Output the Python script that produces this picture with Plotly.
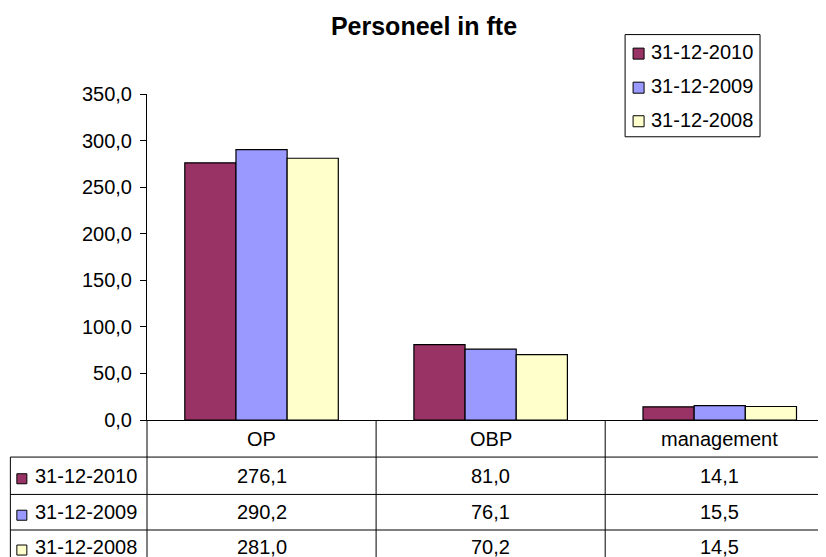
import plotly.graph_objects as go

categories = ["OP", "OBP", "management"]
series_names = ["31-12-2010", "31-12-2009", "31-12-2008"]
values_2010 = [276.1, 81.0, 14.1]
values_2009 = [290.2, 76.1, 15.5]
values_2008 = [281.0, 70.2, 14.5]
series_values = [values_2010, values_2009, values_2008]
colors = ["#993366", "#9999FF", "#FFFFCC"]
y_ticks = [0, 50, 100, 150, 200, 250, 300, 350]

# the page body adds an 8px offset; work in screen pixels and convert
OFF = 8
SW, SH = 826, 557
W, H = SW - OFF, SH - OFF
S_LEFT, S_TOP, S_BOTTOM = 146.7, 94.3, 419.7   # plot area in screen px
ML = S_LEFT - OFF
MT = S_TOP - OFF
MB = H - (S_BOTTOM - OFF)
MR = 0
PW = W - ML - MR
PH = H - MT - MB
CW = 229.2  # px per category
x_range = [-0.5, -0.5 + PW / CW]
FONT = "Arial, Liberation Sans, sans-serif"
FS = 20

def fmt(v):
    return f"{v:.1f}".replace(".", ",")

def px_x(sx):  # screen pixel -> paper x
    return (sx - OFF - ML) / PW

def px_y(sy):  # screen pixel -> paper y
    return (H - MB - (sy - OFF)) / PH

fig = go.Figure()
for i, (name, vals) in enumerate(zip(series_names, series_values)):
    fig.add_trace(go.Bar(
        x=categories, y=vals, name=name, showlegend=False,
        marker=dict(color=colors[i], line=dict(color="black", width=1.2)),
    ))

shapes = []
annotations = []
line = dict(color="black", width=1)

# ---- legend box (top right)
LX0, LX1, LY0, LY1 = 625, 760, 35, 137
shapes.append(dict(type="rect", xref="paper", yref="paper",
                   x0=px_x(LX0), x1=px_x(LX1), y0=px_y(LY1), y1=px_y(LY0),
                   fillcolor="white", line=line, layer="above"))
legend_rows = [52.5, 86.5, 120]
for i, name in enumerate(series_names):
    cy = legend_rows[i]
    shapes.append(dict(type="rect", xref="paper", yref="paper",
                       x0=px_x(633), x1=px_x(644), y0=px_y(cy + 7), y1=px_y(cy - 4),
                       fillcolor=colors[i], line=dict(color="black", width=1), layer="above"))
    annotations.append(dict(x=px_x(649), xref="paper", y=px_y(cy), yref="paper",
                            text=name, showarrow=False, font=dict(family=FONT, size=FS, color="black"),
                            xanchor="left", yanchor="middle"))

# ---- data table under the axis
top = S_BOTTOM
row_lines = [456.7, 494, 529.5]
row_centers = [(top + row_lines[0]) / 2, (row_lines[0] + row_lines[1]) / 2,
               (row_lines[1] + row_lines[2]) / 2, row_lines[2] + 17]

for yl in row_lines:
    shapes.append(dict(type="line", xref="paper", yref="paper",
                       x0=px_x(10), x1=1, y0=px_y(yl), y1=px_y(yl), line=line))
shapes.append(dict(type="line", xref="paper", yref="paper",
                   x0=px_x(10), x1=px_x(10), y0=px_y(row_lines[0]), y1=px_y(SH + 5), line=line))
for k in range(len(categories) + 1):
    xb = S_LEFT + k * CW
    if xb > SW:
        continue
    shapes.append(dict(type="line", xref="paper", yref="paper",
                       x0=px_x(xb), x1=px_x(xb), y0=0, y1=px_y(SH + 5), line=line))

for c in categories:
    annotations.append(dict(x=c, xref="x", y=px_y(row_centers[0]), yref="paper",
                            text=c, showarrow=False, font=dict(family=FONT, size=FS, color="black"),
                            xanchor="center", yanchor="middle"))
for r, (name, vals) in enumerate(zip(series_names, series_values)):
    cy = row_centers[r + 1]
    shapes.append(dict(type="rect", xref="paper", yref="paper",
                       x0=px_x(16.5), x1=px_x(26.5), y0=px_y(cy + 8), y1=px_y(cy - 2),
                       fillcolor=colors[r], line=dict(color="black", width=1)))
    annotations.append(dict(x=px_x(33), xref="paper", y=px_y(cy), yref="paper",
                            text=name, showarrow=False, font=dict(family=FONT, size=FS, color="black"),
                            xanchor="left", yanchor="middle"))
    for c, v in zip(categories, vals):
        annotations.append(dict(x=c, xref="x", y=px_y(cy), yref="paper",
                                text=fmt(v), showarrow=False, font=dict(family=FONT, size=FS, color="black"),
                                xanchor="center", yanchor="middle"))

fig.update_layout(
    width=W, height=H,
    margin=dict(l=ML, r=MR, t=MT, b=MB, pad=0, autoexpand=False),
    paper_bgcolor="white", plot_bgcolor="white",
    separators=",.",
    barmode="group", bargap=0.33, bargroupgap=0,
    showlegend=False,
    font=dict(family=FONT, size=FS, color="black"),
    title=dict(text="<b>Personeel in fte</b>", xref="container", x=(424 - OFF) / W, xanchor="center",
               yref="container", y=1 - (26 - OFF) / H, yanchor="middle",
               font=dict(family=FONT, size=25, color="black")),
    xaxis=dict(range=x_range, showticklabels=False, ticks="", showline=True,
               linecolor="black", linewidth=1, showgrid=False, zeroline=False, fixedrange=True),
    yaxis=dict(range=[0, 350], tickvals=y_ticks, tickformat=".1f", ticks="outside",
               ticklen=6, tickcolor="black", showline=True, linecolor="black", linewidth=1,
               showgrid=False, zeroline=False, ticklabelstandoff=4,
               tickfont=dict(family=FONT, size=FS, color="black")),
    shapes=shapes, annotations=annotations,
)

fig.write_html("out.html")
